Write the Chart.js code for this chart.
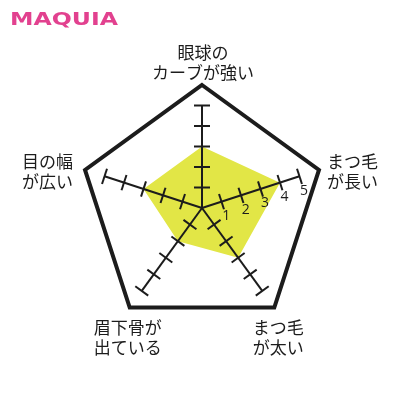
<!DOCTYPE html>
<html>
<head>
<meta charset="utf-8">
<script src="https://cdn.jsdelivr.net/npm/chart.js@4"></script>
<style>
  html, body { margin: 0; padding: 0; background: #fff; }
  #wrap { width: 400px; height: 400px; }
</style>
</head>
<body>
<div id="wrap"><canvas id="myChart" width="400" height="400"></canvas></div>
<script>
var labels = [
  ['眼球の', 'カーブが強い'],
  ['まつ毛', 'が長い'],
  ['まつ毛', 'が太い'],
  ['眉下骨が', '出ている'],
  ['目の幅', 'が広い']
];
var scores = [3, 4, 3, 2, 3];
var tickValues = [1, 2, 3, 4, 5];
var scaleMax = 6;

var ink = '#1c1c1c';
var fillColor = 'rgb(226, 230, 70)';
var jpFont = '"Noto Sans CJK JP", "Noto Sans", sans-serif';

// spokes with cross ticks, numbers on the right spoke, labels and logo
var decor = {
  id: 'decor',
  afterDatasetsDraw: function(chart) {
    var c = chart.ctx;
    var r = chart.scales.r;
    var last = tickValues[tickValues.length - 1];
    c.save();
    c.strokeStyle = ink;
    c.lineWidth = 2;
    for (var i = 0; i < labels.length; i++) {
      var a = r.getIndexAngle(i) - Math.PI / 2;
      var nx = -Math.sin(a), ny = Math.cos(a);
      var end = r.getPointPositionForValue(i, last);
      c.beginPath();
      c.moveTo(r.xCenter, r.yCenter);
      c.lineTo(end.x, end.y);
      c.stroke();
      tickValues.forEach(function(v) {
        var p = r.getPointPositionForValue(i, v);
        c.beginPath();
        c.moveTo(p.x - nx * 8, p.y - ny * 8);
        c.lineTo(p.x + nx * 8, p.y + ny * 8);
        c.stroke();
      });
    }
    // numbers along the second spoke
    var a1 = r.getIndexAngle(1) - Math.PI / 2;
    c.fillStyle = ink;
    c.font = '14px "Open Sans", sans-serif';
    c.textAlign = 'center';
    c.textBaseline = 'middle';
    tickValues.forEach(function(v) {
      var p = r.getPointPositionForValue(1, v);
      c.fillText(String(v), p.x - Math.sin(a1) * 15, p.y + Math.cos(a1) * 15);
    });

    // axis labels
    var dist = [145, 155, 150, 150, 155];
    var shift = [[1, 0], [3, 11], [-12, 8], [14, 8], [-7, 11]];
    c.font = '17px ' + jpFont;
    for (var j = 0; j < labels.length; j++) {
      var q = r.getPointPosition(j, dist[j]);
      var x = q.x + shift[j][0], y = q.y + shift[j][1];
      var lines = labels[j];
      var lh = 20;
      for (var k = 0; k < lines.length; k++) {
        c.fillText(lines[k], x, y + (k - (lines.length - 1) / 2) * lh);
      }
    }

    // logo
    c.font = 'bold 18px "DejaVu Sans", sans-serif';
    c.fillStyle = '#e2418f';
    c.textAlign = 'left';
    c.textBaseline = 'alphabetic';
    var w = c.measureText('MAQUIA').width;
    c.translate(10, 25);
    c.scale(108 / w, 1);
    c.fillText('MAQUIA', 0, 0);
    c.restore();
  }
};

var ctx = document.getElementById('myChart').getContext('2d');
var myChart = new Chart(ctx, {
  type: 'radar',
  data: {
    labels: labels,
    datasets: [{
      data: scores,
      backgroundColor: fillColor,
      borderWidth: 0,
      pointRadius: 0,
      fill: true
    }]
  },
  options: {
    responsive: false,
    animation: false,
    devicePixelRatio: 1,
    layout: { padding: { left: 79, right: 75, top: 85, bottom: 69 } },
    plugins: { legend: { display: false }, tooltip: { enabled: false } },
    scales: {
      r: {
        min: 0,
        max: scaleMax,
        ticks: { display: false, stepSize: 1 },
        pointLabels: { display: false },
        angleLines: { display: false },
        grid: {
          lineWidth: 4,
          color: function(ctx) {
            return ctx.tick && ctx.tick.value === scaleMax ? ink : 'rgba(0,0,0,0)';
          }
        }
      }
    }
  },
  plugins: [decor]
});
</script>
</body>
</html>
